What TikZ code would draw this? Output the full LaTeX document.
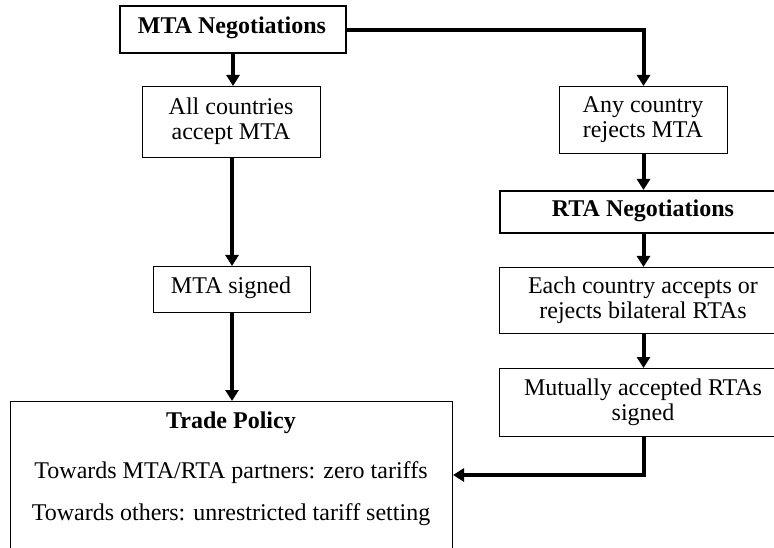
\documentclass[tikz,border=0pt]{standalone}
\usepackage{fontspec}
\setmainfont{Liberation Serif}
\usetikzlibrary{arrows.meta}
\begin{document}
\begin{tikzpicture}[x=1pt,y=-1pt,
  font=\fontsize{24}{25}\selectfont,
  thinbox/.style={draw, line width=1pt, align=center, inner sep=0pt, anchor=north west},
  thickbox/.style={draw, line width=2pt, align=center, inner sep=0pt, anchor=north west, font=\fontsize{24}{25}\selectfont\bfseries},
  arr/.style={line width=4pt, -{Triangle[width=13pt,length=11pt]}},
  txt/.style={inner sep=0pt, align=center},
  btxt/.style={txt, font=\fontsize{24}{25}\selectfont\bfseries}]
\useasboundingbox (0,0) rectangle (774,548);
% boxes: north-west corners, sizes in px
\node[thickbox, minimum width=226pt, minimum height=47pt] (mta) at (119,5) {};
\node[btxt] (mtat) at (232,28) {MTA Negotiations};
\node[thinbox, minimum width=178pt, minimum height=71pt] (all) at (142,86) {};
\node[txt] (allt) at (231,121) {All countries\\accept MTA};
\node[thinbox, minimum width=157pt, minimum height=46pt] (signed) at (153,266) {};
\node[txt] (signedt) at (231,288) {MTA signed};
\node[thinbox, minimum width=442pt, minimum height=170pt] (trade) at (10,401) {};
\node[btxt] (title) at (231,423) {Trade Policy};
\node[txt] (l1) at (231,473) {Towards MTA/RTA partners: zero tariffs};
\node[txt] (l2) at (231,515) {Towards others: unrestricted tariff setting};
\node[thinbox, minimum width=168pt, minimum height=67pt] (any) at (559,86) {};
\node[txt] (anyt) at (643,120) {Any country\\rejects MTA};
\node[thickbox, minimum width=300pt, minimum height=42pt] (rta) at (499,190) {};
\node[btxt] (rtat) at (643,211) {RTA Negotiations};
\node[thinbox, minimum width=300pt, minimum height=66pt] (each) at (499,267) {};
\node[txt] (eacht) at (643,300) {Each country accepts or\\rejects bilateral RTAs};
\node[thinbox, minimum width=300pt, minimum height=68pt] (mut) at (499,368) {};
\node[txt] (mutt) at (643,402) {Mutually accepted RTAs\\signed};
% connectors
\draw[arr] (mta.south -| 233,0) -- (all.north -| 233,0);
\draw[arr] (all.south -| 232,0) -- (signed.north -| 232,0);
\draw[arr] (signed.south -| 232,0) -- (trade.north -| 232,0);
\draw[arr] (mta.east |- 0,30) -| (any.north);
\draw[arr] (any.south) -- (any.south |- rta.north);
\draw[arr] (rta.south -| any.south) -- (any.south |- each.north);
\draw[arr] (each.south -| any.south) -- (any.south |- mut.north);
\draw[arr] (mut.south -| any.south) |- (trade.east |- 0,475);
\end{tikzpicture}
\end{document}
